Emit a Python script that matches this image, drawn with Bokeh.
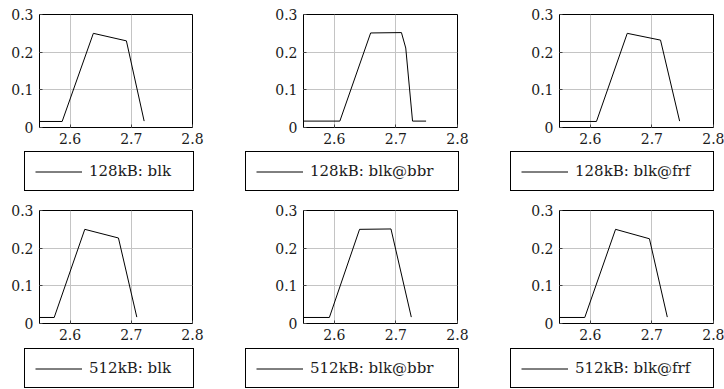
from bokeh.plotting import figure
from bokeh.models import Range1d, FixedTicker, Legend, LegendItem
from bokeh.layouts import column, row
from bokeh.embed import file_html
from bokeh.resources import INLINE

# ---- data ----
labels = ["128kB: blk", "128kB: blk@bbr", "128kB: blk@frf",
          "512kB: blk", "512kB: blk@bbr", "512kB: blk@frf"]

x128_blk = [2.550, 2.587, 2.638, 2.692, 2.721]
y128_blk = [0.016, 0.016, 0.250, 0.230, 0.017]
x128_bbr = [2.550, 2.609, 2.659, 2.709, 2.716, 2.727, 2.749]
y128_bbr = [0.017, 0.017, 0.251, 0.252, 0.211, 0.017, 0.017]
x128_frf = [2.550, 2.610, 2.660, 2.714, 2.745]
y128_frf = [0.016, 0.016, 0.250, 0.232, 0.017]
x512_blk = [2.550, 2.574, 2.624, 2.679, 2.709]
y512_blk = [0.016, 0.016, 0.250, 0.227, 0.017]
x512_bbr = [2.550, 2.592, 2.641, 2.692, 2.725]
y512_bbr = [0.016, 0.016, 0.250, 0.251, 0.017]
x512_frf = [2.550, 2.591, 2.641, 2.696, 2.725]
y512_frf = [0.016, 0.016, 0.250, 0.225, 0.017]

xs = [x128_blk, x128_bbr, x128_frf, x512_blk, x512_bbr, x512_frf]
ys = [y128_blk, y128_bbr, y128_frf, y512_blk, y512_bbr, y512_frf]

x_ticks = [2.6, 2.7, 2.8]
x_tick_labels = ["2.6", "2.7", "2.8"]
y_ticks = [0, 0.1, 0.2, 0.3]
y_tick_labels = ["0", "0.1", "0.2", "0.3"]

FONT = "DejaVu Serif, Liberation Serif, serif"

# columns: (width, left border, right border, legend x, legend label width)
cols = [
    (213, 39, 21, 24, 94),
    (257, 90, 13, 32, 138),
    (254, 89, 11, 40, 128),
]
# rows: (plot height, top border, bottom border, legend strip height, legend y)
rows = [
    (150, 14, 23, 45, 4),
    (153, 15, 25, 41, 1),
]


def make_plot(i):
    r_i, c_i = divmod(i, 3)
    w, bl, br, _, _ = cols[c_i]
    h, bt, bb, _, _ = rows[r_i]
    p = figure(width=w, height=h, output_backend="svg", toolbar_location=None,
               x_range=Range1d(2.55, 2.8), y_range=Range1d(0, 0.3),
               min_border_left=bl, min_border_right=br,
               min_border_top=bt, min_border_bottom=bb)
    p.outline_line_color = "black"
    p.outline_line_width = 1
    p.outline_line_alpha = 1
    p.background_fill_color = "white"
    p.border_fill_color = "white"
    for ax in (p.xaxis[0], p.yaxis[0]):
        ax.axis_line_color = None
        ax.major_tick_in = 3
        ax.major_tick_out = 0
        ax.major_tick_line_color = "#444444"
        ax.minor_tick_line_color = None
        ax.major_label_text_font = FONT
        ax.major_label_text_font_size = "14px"
        ax.major_label_text_color = "#1a1a1a"
    p.xaxis.ticker = FixedTicker(ticks=x_ticks)
    p.yaxis.ticker = FixedTicker(ticks=y_ticks)
    p.xaxis.major_label_overrides = dict(zip(x_ticks, x_tick_labels))
    p.yaxis.major_label_overrides = dict(zip(y_ticks, y_tick_labels))
    p.xaxis.major_label_standoff = 5
    p.yaxis.major_label_standoff = 6
    p.xgrid.ticker = FixedTicker(ticks=x_ticks)
    p.ygrid.ticker = FixedTicker(ticks=y_ticks)
    p.grid.grid_line_color = "#c4c4c4"
    p.grid.grid_line_width = 1
    p.line(xs[i], ys[i], line_color="black", line_width=1)
    return p


def make_legend(i):
    r_i, c_i = divmod(i, 3)
    w, _, _, lx, lw = cols[c_i]
    _, _, _, lh, ly = rows[r_i]
    q = figure(width=w, height=lh, output_backend="svg", toolbar_location=None,
               x_range=Range1d(0, 1), y_range=Range1d(0, 1),
               min_border=0, x_axis_type=None, y_axis_type=None)
    q.outline_line_color = None
    q.grid.visible = False
    q.background_fill_color = "white"
    q.border_fill_color = "white"
    # same series, drawn outside this strip's view: only its legend entry shows
    rend = q.line(xs[i], ys[i], line_color="black", line_width=1)
    legend = Legend(items=[LegendItem(label=labels[i], renderers=[rend])],
                    location=(lx, ly))
    legend.label_text_font = FONT
    legend.label_text_font_size = "15px"
    legend.label_text_color = "#1a1a1a"
    legend.glyph_width = 47
    legend.glyph_height = 15
    legend.label_height = 15
    legend.label_width = lw
    legend.label_standoff = 7
    legend.padding = 10
    legend.margin = 0
    legend.border_line_color = "black"
    legend.border_line_alpha = 1
    legend.border_line_width = 1
    legend.background_fill_color = "white"
    legend.background_fill_alpha = 1
    q.add_layout(legend, "center")
    return q


plots = [make_plot(i) for i in range(6)]
legends = [make_legend(i) for i in range(6)]

layout = column(row(*plots[:3]), row(*legends[:3]),
                row(*plots[3:]), row(*legends[3:]))
open("out.html", "w").write(file_html(layout, INLINE))
